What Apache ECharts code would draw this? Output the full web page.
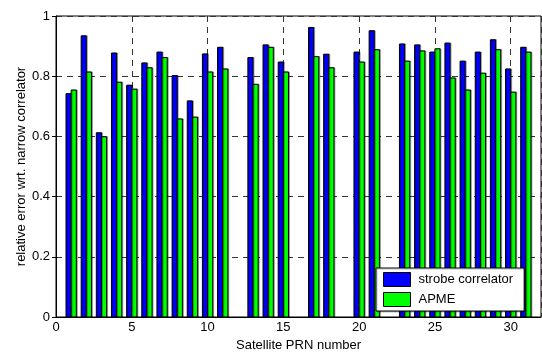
<!DOCTYPE html>
<html><head><meta charset="utf-8">
<script src="https://cdn.jsdelivr.net/npm/echarts@6/dist/echarts.min.js"></script>
<style>html,body{margin:0;padding:0;background:#fff}#c{width:542px;height:353px}</style>
</head><body><div id="c"></div>
<script>
var prn = [1,2,3,4,5,6,7,8,9,10,11,13,14,15,17,18,20,21,23,24,25,26,27,28,29,30,31];
var strobe = [0.742,0.934,0.612,0.877,0.770,0.844,0.880,0.802,0.718,0.874,0.896,0.862,0.904,0.847,0.962,0.873,0.880,0.951,0.907,0.904,0.880,0.910,0.850,0.880,0.921,0.824,0.896];
var apme = [0.754,0.814,0.599,0.780,0.757,0.828,0.862,0.658,0.664,0.814,0.824,0.773,0.896,0.814,0.865,0.828,0.847,0.888,0.850,0.884,0.891,0.794,0.754,0.810,0.888,0.747,0.880];
var xTicks = [0,5,10,15,20,25,30];
var yTicks = [0,0.2,0.4,0.6,0.8,1];
var seriesNames = ['strobe correlator','APME'];
var colors = ['#0000ff','#00ff00'];

function pairs(v){ return prn.map(function(p,i){ return [p, v[i]]; }); }
var font = 'Liberation Sans, Arial, sans-serif';
var BW = 0.34; // bar width in x units
function makeRender(side, color){
  return function(params, api){
    var x = api.value(0), y = api.value(1);
    var x0 = side === 0 ? x - BW : x;
    var p0 = api.coord([x0, 0]);
    var p1 = api.coord([x0 + BW, y]);
    return {
      type:'rect',
      shape:{x:p0[0], y:p1[1], width:p1[0]-p0[0], height:p0[1]-p1[1]},
      style:{fill:color, stroke:'#000', lineWidth:1,
             shadowColor:'rgba(0,0,0,0.3)', shadowOffsetX:1, shadowOffsetY:0, shadowBlur:0}
    };
  };
}
var chart = echarts.init(document.getElementById('c'), null, {renderer:'canvas'});
var dashed = {show:true, lineStyle:{color:'#333', type:[6,5], width:1}};
chart.setOption({
  animation:false,
  grid: {left:56, top:16, right:1, bottom:36, containLabel:false, outerBoundsMode:'none',
         show:true, borderColor:'#000', borderWidth:1, backgroundColor:'#fff'},
  legend: {
    data: [
      {name:seriesNames[0], itemStyle:{color:colors[0], borderColor:'#000', borderWidth:1}},
      {name:seriesNames[1], itemStyle:{color:colors[1], borderColor:'#000', borderWidth:1}}
    ],
    orient:'vertical', left:376, top:268,
    itemWidth:27, itemHeight:14, itemGap:5, padding:[4,11,4,7],
    backgroundColor:'#fff', borderColor:'#000', borderWidth:1,
    shadowColor:'rgba(0,0,0,0.25)', shadowOffsetX:1, shadowOffsetY:1,
    textStyle:{fontFamily:font, fontSize:13, color:'#000', padding:[0,0,0,3]},
    icon:'rect'
  },
  xAxis: {
    type:'value', min:0, max:32, interval:5,
    name:'Satellite PRN number', nameLocation:'middle', nameGap:22, nameMoveOverlap:false,
    nameTextStyle:{fontFamily:font, fontSize:13, color:'#000'},
    axisLine:{show:true, lineStyle:{color:'#000'}},
    axisTick:{show:true, inside:true, length:4, lineStyle:{color:'#000'}},
    axisLabel:{fontFamily:font, fontSize:13, color:'#000', margin:4, showMaxLabel:false,
      formatter:function(v){ return xTicks.indexOf(v)>=0 ? String(v) : ''; }},
    splitLine: dashed
  },
  yAxis: {
    type:'value', min:0, max:1, interval:0.2,
    name:'relative error wrt. narrow correlator', nameLocation:'middle', nameGap:28, nameMoveOverlap:false,
    nameTextStyle:{fontFamily:font, fontSize:13, color:'#000'},
    axisLine:{show:true, lineStyle:{color:'#000'}},
    axisTick:{show:true, inside:false, length:4, lineStyle:{color:'#000'}},
    axisLabel:{fontFamily:font, fontSize:13, color:'#000', margin:6,
      formatter:function(v){ var r=Math.round(v*10)/10; return yTicks.indexOf(r)>=0 ? String(r) : ''; }},
    splitLine: dashed
  },
  series: [
    {name:seriesNames[0], type:'custom', data:pairs(strobe), encode:{x:0,y:1},
     itemStyle:{color:colors[0]}, renderItem:makeRender(0, colors[0])},
    {name:seriesNames[1], type:'custom', data:pairs(apme), encode:{x:0,y:1},
     itemStyle:{color:colors[1]}, renderItem:makeRender(1, colors[1])}
  ]
});
</script></body></html>
